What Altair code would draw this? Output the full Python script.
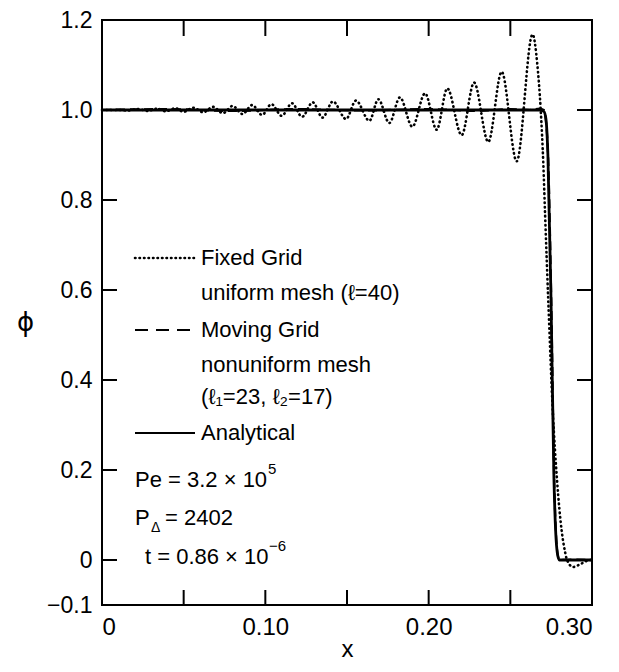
import altair as alt
import pandas as pd

# ---------------- data ----------------
# Fixed grid, uniform mesh (l=40): extrema of the dotted curve
fixed_x = [0.0, 0.010, 0.016, 0.022, 0.028, 0.034, 0.039, 0.045, 0.050, 0.056,
           0.062, 0.068, 0.074, 0.080, 0.086, 0.092, 0.098, 0.1037, 0.110, 0.1163,
           0.1225, 0.129, 0.135, 0.1414, 0.1494, 0.1555, 0.1637, 0.1692, 0.1759, 0.1824,
           0.190, 0.1978, 0.2049, 0.2114, 0.2202, 0.2278, 0.2365, 0.2447, 0.2539, 0.2636,
           0.2665, 0.2686, 0.2702, 0.2712, 0.2735, 0.2760, 0.2786, 0.2814, 0.2835, 0.2847,
           0.2884, 0.2935, 0.2988, 0.300]
fixed_y = [1.0, 1.0, 0.999, 1.002, 0.998, 1.003, 0.997, 1.004, 0.996, 1.005,
           0.995, 1.007, 0.993, 1.009, 0.991, 1.011, 0.989, 1.013, 0.987, 1.015,
           0.985, 1.017, 0.983, 1.019, 0.980, 1.021, 0.976, 1.024, 0.971, 1.028,
           0.963, 1.037, 0.956, 1.048, 0.944, 1.061, 0.929, 1.085, 0.886, 1.168,
           1.102, 1.0, 0.88, 0.776, 0.55, 0.33, 0.177, 0.066, 0.018, 0.0,
           -0.0156, -0.008, 0.0, 0.0]

# Moving grid, nonuniform mesh (l1=23, l2=17)
moving_x = [0.0, 0.04, 0.08, 0.12, 0.16, 0.20, 0.23, 0.25, 0.262, 0.268,
            0.2705, 0.2718, 0.2732, 0.2751, 0.2769, 0.2780, 0.2790, 0.2802, 0.290, 0.300]
moving_y = [1.0, 1.002, 0.998, 1.002, 0.999, 1.002, 0.998, 1.002, 1.0, 1.003,
            1.0, 0.975, 0.89, 0.57, 0.17, 0.055, 0.012, 0.0, 0.001, 0.0]

# Analytical
anal_x = [0.0, 0.05, 0.10, 0.15, 0.20, 0.25, 0.268, 0.2705, 0.2718, 0.2730,
          0.2749, 0.2767, 0.2778, 0.2788, 0.2800, 0.285, 0.300]
anal_y = [1.0, 1.0, 1.0, 1.0, 1.0, 1.0, 1.0, 0.997, 0.98, 0.90,
          0.58, 0.18, 0.06, 0.015, 0.0, 0.0, 0.0]

x_label_values = [0.0, 0.10, 0.20, 0.30]
x_tick_values = [0.05, 0.10, 0.15, 0.20, 0.25]
y_label_values = [-0.1, 0.0, 0.2, 0.4, 0.6, 0.8, 1.0, 1.2]
y_tick_values = [0.0, 0.2, 0.4, 0.6, 0.8, 1.0]

legend_lines = ["Fixed Grid", "uniform mesh (ℓ=40)", "Moving Grid",
                "nonuniform mesh", "(ℓ₁=23, ℓ₂=17)", "Analytical"]
param_parts = ["Pe = 3.2 × 10", "5", "P", "Δ", "= 2402", "t = 0.86 × 10", "−6"]

# ---------------- layout (pixels, plot-area relative) ----------------
W, H = 490, 585
FONT = "Liberation Sans"
legend_text_px = 99
legend_text_py = [238, 273, 310, 345, 377, 413]
param_px = [33, 166, 33, 49, 63, 43, 167]
param_py = [460, 449, 498, 508, 498, 537, 526]
param_size = [22, 15, 22, 14, 22, 22, 15]

xs = alt.Scale(domain=[0, 0.3], nice=False, zero=False)
ys = alt.Scale(domain=[-0.1, 1.2], nice=False, zero=False)

xaxis = alt.Axis(values=x_label_values, grid=False, domain=False, ticks=False,
                 labelExpr="datum.value == 0 ? '0' : format(datum.value, '.2f')",
                 labelFont=FONT, labelFontSize=24, labelColor="black", labelPadding=10,
                 title="x", titleFont=FONT, titleFontSize=24, titleFontWeight="normal",
                 titleColor="black", titleY=44, titleBaseline="middle")
yaxis = alt.Axis(values=y_label_values, grid=False, domain=False, ticks=False,
                 labelExpr="datum.value == 0 ? '0' : format(datum.value, '.1f')",
                 labelFont=FONT, labelFontSize=23, labelColor="black", labelPadding=10,
                 title="ϕ", titleFont="DejaVu Sans", titleFontSize=26, titleFontWeight="normal",
                 titleColor="black", titleAngle=0, titleX=-77, titleY=302,
                 titleAlign="center", titleBaseline="middle")

X = alt.X("x:Q", scale=xs, axis=xaxis)
Y = alt.Y("y:Q", scale=ys, axis=yaxis)

df_fixed = pd.DataFrame({"x": fixed_x, "y": fixed_y})
df_moving = pd.DataFrame({"x": moving_x, "y": moving_y})
df_anal = pd.DataFrame({"x": anal_x, "y": anal_y})

fixed = alt.Chart(df_fixed).mark_line(
    color="black", strokeWidth=2.6, strokeDash=[0.5, 4], strokeCap="round",
    interpolate="monotone").encode(x=X, y=Y)
moving = alt.Chart(df_moving).mark_line(
    color="black", strokeWidth=2.2, strokeDash=[9, 5],
    interpolate="monotone").encode(x=X, y=Y)
anal = alt.Chart(df_anal).mark_line(
    color="black", strokeWidth=2.8, interpolate="monotone").encode(x=X, y=Y)

# inward ticks on all four sides
df_xt = pd.DataFrame({"x": x_tick_values})
df_yt = pd.DataFrame({"y": y_tick_values})
tick_b = alt.Chart(df_xt).mark_rule(color="black", strokeWidth=2).encode(
    x=X, y=alt.value(H), y2=alt.value(H - 15))
tick_t = alt.Chart(df_xt).mark_rule(color="black", strokeWidth=2).encode(
    x=X, y=alt.value(0), y2=alt.value(16))
tick_l = alt.Chart(df_yt).mark_rule(color="black", strokeWidth=2).encode(
    y=Y, x=alt.value(0), x2=alt.value(15))
tick_r = alt.Chart(df_yt).mark_rule(color="black", strokeWidth=2).encode(
    y=Y, x=alt.value(W), x2=alt.value(W - 15))

# legend samples
one = pd.DataFrame({"k": [0]})
s_dot = alt.Chart(one).mark_rule(color="black", strokeWidth=2.6, strokeDash=[0.5, 4],
                                 strokeCap="round").encode(
    x=alt.value(33), x2=alt.value(93), y=alt.value(238))
s_dash = alt.Chart(one).mark_rule(color="black", strokeWidth=2.2, strokeDash=[13, 8]).encode(
    x=alt.value(33), x2=alt.value(93), y=alt.value(310))
s_solid = alt.Chart(one).mark_rule(color="black", strokeWidth=2.2).encode(
    x=alt.value(33), x2=alt.value(93), y=alt.value(413))

df_leg = pd.DataFrame({"t": legend_lines, "py": legend_text_py,
                       "px": [legend_text_px] * len(legend_lines)})
leg_text = alt.Chart(df_leg).mark_text(
    font=FONT, fontSize=22, align="left", baseline="middle", color="black").encode(
    x=alt.X("px:Q", scale=None), y=alt.Y("py:Q", scale=None), text="t:N")

df_par = pd.DataFrame({"t": param_parts, "px": param_px, "py": param_py, "s": param_size})
par_text = alt.Chart(df_par).mark_text(
    font=FONT, align="left", baseline="middle", color="black").encode(
    x=alt.X("px:Q", scale=None), y=alt.Y("py:Q", scale=None), text="t:N",
    size=alt.Size("s:Q", scale=None, legend=None))

chart = alt.layer(
    fixed, moving, anal, tick_b, tick_t, tick_l, tick_r,
    s_dot, s_dash, s_solid, leg_text, par_text
).properties(
    width=W, height=H,
    autosize=alt.AutoSizeParams(type="none"),
    padding={"left": 94, "top": 12, "right": 19, "bottom": 59},
    background="white",
).configure_view(stroke="black", strokeWidth=2)

chart.save("out.html", embed_options={"renderer": "svg", "actions": False})
